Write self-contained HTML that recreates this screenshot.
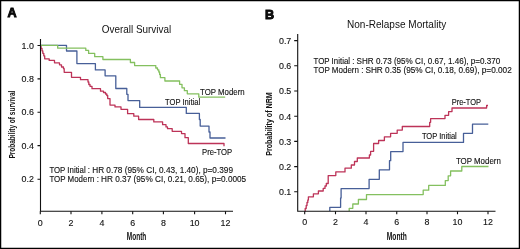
<!DOCTYPE html>
<html><head><meta charset="utf-8">
<style>
html,body{margin:0;padding:0;background:#fff;}
svg{display:block;will-change:transform;}
text{font-family:"Liberation Sans",sans-serif;fill:#111;}
.s text{stroke:#111;stroke-width:0.12px;}
</style></head><body>
<svg width="520" height="249" viewBox="0 0 520 249">
<rect x="0.6" y="0.6" width="518.8" height="247.8" fill="#fff" stroke="#000" stroke-width="1.3"/>
<!-- CURVES -->
<g fill="none" stroke-width="1.3" stroke-linejoin="round" stroke-linecap="butt">
<path stroke="#bd3358" d="M40.5 46H41V48.3H42V50.8H42.8V53.3H43.8V55.8H44.7V58.8H49.2V60.4H54.5V62.8H59.5V64.8H61.5V67H63.5V68.7H64.2V72.3H71.5V77.3H80.5V79.7H88V82H88.8V84.5H90V86.3H92V88.7H100.5V91.2H103.5V92.5H105.5V94H106.8V95.5H107.7V98.6H110V105.1H115V106.9H121V109.3H127.6V113.7H133.8V116.2H138.6V119.5H153.8V121.9H162.6V124.7H166V126.9H167.5V128.7H172.2V131.3H181.5V133.6H185V137.7H188.3V143.5H224V146.2"/>
<path stroke="#475f98" d="M40.5 45.4H66.5V51H76.9V63.6H95.4V69.9H105.1V75.8H115.8V88.5H126.8V94.3H128V100.6H139.7V107.4H186.3V113.4H199.4V119.5H200.2V126.1H209V132H210V138H225.5"/>
<path stroke="#84c05f" d="M40.5 45.4H57.7V48.2H85.8V50.4H88.6V53.4H94.7V56.7H102.9V59.5H130.4V62.5H134.6V65.6H155.8V68H157.5V69.8H158.8V72H159.6V74.5H160.4V77.7H164.9V81H179.6V84.3H182V87.8H184.4V90.7H187.3V93.8H198.8V97.2H225.2"/>
<path stroke="#bd3358" d="M304.8 211H305.2V208.5H306.2V205.5H307V202.5H307.8V200H308.4V196.8H313.4V193.8H318.4V191H323.2V188.4H325V186H326.3V183.5H328.2V175.6H335.8V171.9H345V168.2H351.3V165H354.5V161.5H357.3V158H369.4V155H370.6V151.3H373.6V143.5H378.6V140.5H384.4V136.8H390.6V133.3H397.2V130.1H402.3V126.5H429.7V122.3H430.6V118.6H445V115.3H448.6V111.6H452V108H486.6V105.5H488"/>
<path stroke="#475f98" d="M329.8 211V207.3H340.6V198H341.1V188.6H369.1V179.3H379.3V169.8H389.5V160.7H390.7V151.6H403V142.4H463.5V133.3H472.5V124.2H488.3"/>
<path stroke="#84c05f" d="M349.2 211V208.3H352.8V204H358.4V199.5H366.5V194.6H423.2V190.2H428.7V185.4H445.3V180.6H448.2V175.8H450.6V171H461.8V166.5H488.5"/>
</g>
<!-- Panel A -->
<text x="7.5" y="16.9" font-size="12.6" font-weight="bold" fill="#000" stroke="#000" stroke-width="0.9">A</text>
<text x="101.8" y="32.9" font-size="10.6" textLength="69.4" lengthAdjust="spacingAndGlyphs">Overall Survival</text>
<g stroke="#111" stroke-width="1.1" fill="none">
<path d="M40.5 39V211.3H233"/>
<path d="M37.5 45.5H40.5M37.5 78.9H40.5M37.5 112.2H40.5M37.5 145.6H40.5M37.5 179.3H40.5"/>
<path d="M40.3 211.3V214.3M71 211.3V214.3M101.9 211.3V214.3M132.7 211.3V214.3M163.4 211.3V214.3M194.6 211.3V214.3M225.5 211.3V214.3"/>
</g>
<g font-size="8.9" text-anchor="end" class="s">
<text x="33.9" y="48.5">1.0</text>
<text x="33.9" y="82.0">0.8</text>
<text x="33.9" y="115.3">0.6</text>
<text x="33.9" y="148.7">0.4</text>
<text x="33.9" y="182.4">0.2</text>
</g>
<g font-size="8.9" text-anchor="middle" class="s">
<text x="40.3" y="225.5">0</text>
<text x="71" y="225.5">2</text>
<text x="101.9" y="225.5">4</text>
<text x="132.7" y="225.5">6</text>
<text x="163.4" y="225.5">8</text>
<text x="194.6" y="225.5">10</text>
<text x="225.5" y="225.5">12</text>
</g>
<text x="126.8" y="239.9" font-size="10.3" font-weight="bold" stroke-width="0" textLength="19.5" lengthAdjust="spacingAndGlyphs">Month</text>
<text transform="translate(14.8 158.6) rotate(-90)" x="0" y="0" font-size="9" font-weight="bold" stroke-width="0" textLength="68" lengthAdjust="spacingAndGlyphs">Probability of survival</text>
<g font-size="8.4" class="s">
<text x="49.4" y="172.6" textLength="40.6" lengthAdjust="spacingAndGlyphs">TOP Initial :</text>
<text x="92.2" y="172.6" textLength="140.8" lengthAdjust="spacingAndGlyphs">HR 0.78 (95% CI, 0.43, 1.40), p=0.399</text>
<text x="49.4" y="182" textLength="49.5" lengthAdjust="spacingAndGlyphs">TOP Modern :</text>
<text x="101.1" y="182" textLength="145.1" lengthAdjust="spacingAndGlyphs">HR 0.37 (95% CI, 0.21, 0.65), p=0.0005</text>
</g>
<g font-size="8.4" class="s">
<text x="200.1" y="95.4" textLength="44.5" lengthAdjust="spacingAndGlyphs">TOP Modern</text>
<text x="165.1" y="105.4" textLength="35" lengthAdjust="spacingAndGlyphs">TOP Initial</text>
<text x="202" y="155.1" textLength="30.2" lengthAdjust="spacingAndGlyphs">Pre-TOP</text>
</g>

<!-- Panel B -->
<text x="265" y="18.6" font-size="12.6" font-weight="bold" fill="#000" stroke="#000" stroke-width="0.9">B</text>
<text x="347" y="27.9" font-size="10.4" textLength="99.2" lengthAdjust="spacingAndGlyphs">Non-Relapse Mortality</text>
<g stroke="#111" stroke-width="1.1" fill="none">
<path d="M297.7 34V211.3H495.5"/>
<path d="M294.2 40.6H297.7M294.2 65.8H297.7M294.2 91H297.7M294.2 116.2H297.7M294.2 141.4H297.7M294.2 166.6H297.7M294.2 191.8H297.7"/>
<path d="M304.7 211.3V214.3M335.5 211.3V214.3M366 211.3V214.3M396.75 211.3V214.3M427 211.3V214.3M457.5 211.3V214.3M488 211.3V214.3"/>
</g>
<g font-size="8.9" text-anchor="end" class="s">
<text x="291.3" y="43.9">0.7</text>
<text x="291.3" y="69.1">0.6</text>
<text x="291.3" y="94.3">0.5</text>
<text x="291.3" y="119.5">0.4</text>
<text x="291.3" y="144.7">0.3</text>
<text x="291.3" y="169.9">0.2</text>
<text x="291.3" y="195.1">0.1</text>
</g>
<g font-size="8.9" text-anchor="middle" class="s">
<text x="304.7" y="225.3">0</text>
<text x="335.5" y="225.3">2</text>
<text x="366" y="225.3">4</text>
<text x="396.75" y="225.3">6</text>
<text x="427" y="225.3">8</text>
<text x="457.5" y="225.3">10</text>
<text x="488" y="225.3">12</text>
</g>
<text x="386.75" y="240.3" font-size="10.3" font-weight="bold" stroke-width="0" textLength="20" lengthAdjust="spacingAndGlyphs">Month</text>
<text transform="translate(272.1 155.8) rotate(-90)" x="0" y="0" font-size="9" font-weight="bold" stroke-width="0" textLength="63.5" lengthAdjust="spacingAndGlyphs">Probability of NRM</text>
<g font-size="8.4" class="s">
<text x="313.5" y="63.9" textLength="40.9" lengthAdjust="spacingAndGlyphs">TOP Initial :</text>
<text x="356.6" y="63.9" textLength="143.7" lengthAdjust="spacingAndGlyphs">SHR 0.73 (95% CI, 0.67, 1.46), p=0.370</text>
<text x="313.5" y="73.3" textLength="49.9" lengthAdjust="spacingAndGlyphs">TOP Modern :</text>
<text x="365.4" y="73.3" textLength="146.4" lengthAdjust="spacingAndGlyphs">SHR 0.35 (95% CI, 0.18, 0.69), p=0.002</text>
</g>
<g font-size="8.4" class="s">
<text x="451.7" y="105.4" textLength="29.3" lengthAdjust="spacingAndGlyphs">Pre-TOP</text>
<text x="421.9" y="138.8" textLength="34.9" lengthAdjust="spacingAndGlyphs">TOP Initial</text>
<text x="455.9" y="164.3" textLength="44.9" lengthAdjust="spacingAndGlyphs">TOP Modern</text>
</g>


</svg>
</body></html>
